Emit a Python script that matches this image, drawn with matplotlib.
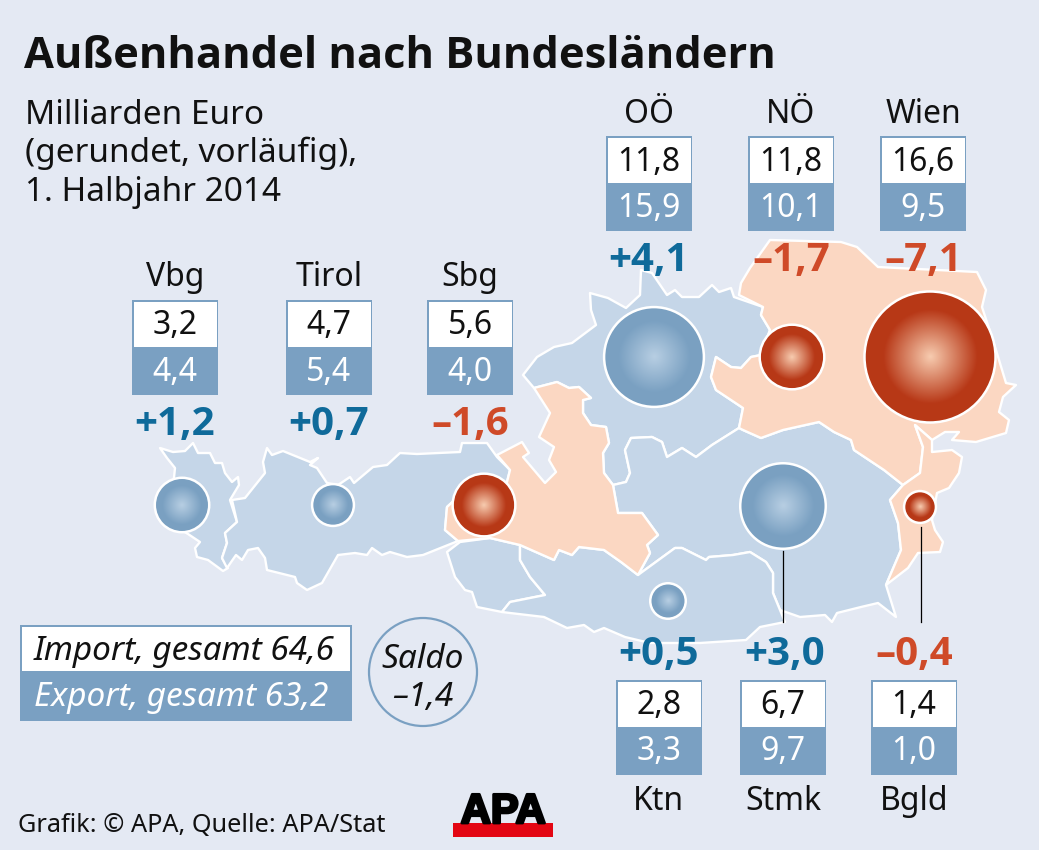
import numpy as np
from matplotlib import pyplot as plt
from matplotlib import patheffects as pe
from matplotlib.patches import Polygon, Circle, Rectangle

plt.rcParams['font.family'] = ['Noto Sans', 'DejaVu Sans']
BOLD_FONT = ['Open Sans', 'DejaVu Sans']

# bundeslaender, values in mrd euro
names = ["Vbg", "Tirol", "Sbg", "OÖ", "NÖ", "Wien", "Ktn", "Stmk", "Bgld"]
imports = [3.2, 4.7, 5.6, 11.8, 11.8, 16.6, 2.8, 6.7, 1.4]
exports = [4.4, 5.4, 4.0, 15.9, 10.1, 9.5, 3.3, 9.7, 1.0]
saldo = [1.2, 0.7, -1.6, 4.1, -1.7, -7.1, 0.5, 3.0, -0.4]

# layout per land, all in pixels of the picture
box_left = [132, 286, 427, 606, 748, 880, 616, 740, 871]
box_top = [300, 300, 300, 136, 136, 136, 680, 680, 680]
label_x = [175, 329, 470, 649, 791, 923, 658, 783, 914]
saldo_x = [175, 329, 470, 649, 791, 923, 658, 785, 914]
bubble_x = [182, 333, 484, 654, 792, 930, 668, 783, 920]
bubble_y = [505, 505, 505, 357, 357, 357, 601, 506, 507]

BG = "#e4e9f3"
MAP_BLUE = "#c5d6e8"
MAP_RED = "#fbd7c2"
BOX_BLUE = "#7aa0c2"
TXT_BLUE = "#0f6a9a"
TXT_RED = "#cf4a28"

vbg = [(160,448),(173,452),(185,451),(193,443),(198,453),(210,453),(215,463),(222,463),(225,473),
       (232,482),(238,477),(239,485),(230,500),(237,522),(225,533),(227,543),(222,558),(228,568),
       (223,571),(208,560),(197,557),(195,548),(200,542),(188,534),(173,525),(173,487),(175,468),(167,458)]
tirol = [(232,500),(245,498),(265,473),(263,462),(267,448),(272,455),(283,451),(310,462),(318,458),
         (310,465),(317,468),(327,483),(338,485),(350,477),(354,483),(373,467),(387,465),(400,453),
         (417,454),(460,452),(462,443),(487,443),(497,457),(510,470),(505,490),(460,495),(447,507),
         (445,530),(458,541),(423,555),(407,557),(390,552),(382,555),(372,548),(367,555),(355,553),
         (338,555),(322,583),(307,590),(297,583),(295,577),(267,570),(265,558),(258,548),(248,550),
         (242,560),(236,555),(227,568),(222,558),(227,543),(225,533),(237,522)]
osttirol = [(447,552),(460,542),(490,538),(520,545),(520,560),(530,577),(545,595),(510,602),(502,612),
            (477,607),(472,592),(465,590),(455,577)]
sbg = [(497,455),(522,442),(529,453),(523,457),(545,483),(556,472),(549,460),(554,447),(539,437),
       (550,413),(534,388),(557,382),(569,388),(579,387),(591,398),(583,400),(583,413),(591,425),
       (606,427),(609,443),(603,453),(604,473),(613,485),(618,513),(642,513),(658,535),(647,545),
       (650,553),(638,575),(621,562),(604,550),(579,547),(572,555),(559,550),(554,560),(520,545),
       (490,538),(458,541),(445,530),(447,507),(460,495),(505,490),(510,470)]
ooe = [(523,375),(537,357),(554,347),(572,343),(596,325),(591,310),(590,293),(608,298),(626,308),
       (640,295),(641,270),(652,273),(667,295),(675,290),(682,297),(699,297),(712,285),(719,292),
       (731,288),(734,297),(763,307),(761,315),(770,330),(761,355),(751,357),(741,368),(731,367),
       (716,357),(711,377),(716,390),(743,408),(739,428),(712,445),(696,457),(682,448),(667,457),
       (662,442),(652,437),(631,438),(625,450),(630,473),(626,482),(613,485),(604,473),(603,453),
       (609,443),(606,427),(591,425),(583,413),(583,400),(591,398),(579,387),(569,388),(557,382),(534,388)]
noe = [(739,295),(741,283),(750,268),(770,240),(841,242),(857,247),(878,267),(977,272),(986,290),
       (982,307),(996,350),(1006,383),(1016,385),(1003,397),(999,412),(1009,420),(1006,433),(976,442),
       (952,440),(959,432),(945,432),(932,440),(915,425),(923,447),(920,473),(903,485),(884,470),
       (854,450),(851,440),(834,432),(819,422),(783,430),(761,438),(743,430),(739,428),(743,408),
       (716,390),(711,377),(716,357),(731,367),(741,368),(751,357),(761,355),(770,330),(761,315),(763,307)]
bgld = [(915,425),(923,447),(920,473),(903,485),(890,500),(898,523),(901,550),(886,585),(908,568),
        (918,553),(940,552),(943,542),(935,530),(932,520),(937,493),(949,488),(959,473),(962,457),
        (952,450),(932,452),(932,440)]
stmk = [(613,485),(626,482),(630,473),(625,450),(631,438),(652,437),(662,442),(667,457),(682,448),
        (696,457),(712,445),(739,428),(743,430),(761,438),(783,430),(819,422),(834,432),(851,440),
        (854,450),(884,470),(903,485),(890,500),(898,523),(901,550),(886,585),(896,617),(878,603),
        (861,607),(837,613),(832,622),(825,615),(800,617),(780,610),(773,593),(773,573),(766,562),
        (750,552),(733,555),(709,557),(706,560),(682,548),(675,548),(638,575),(650,553),(647,545),
        (658,535),(642,513),(618,513)]
ktn = [(502,612),(510,602),(545,595),(530,577),(520,560),(520,545),(554,560),(559,550),(572,555),
       (579,547),(604,550),(621,562),(638,575),(675,548),(682,548),(706,560),(709,557),(733,555),
       (750,552),(766,562),(773,573),(773,593),(780,610),(785,622),(760,627),(746,640),(700,643),
       (650,643),(625,637),(604,628),(594,632),(584,625),(567,628),(544,617),(510,613)]

fig = plt.figure(figsize=(10.39, 8.5), dpi=100, facecolor=BG)
ax = fig.add_axes([0, 0, 1, 1])
ax.set_xlim(0, 1039)
ax.set_ylim(850, 0)
ax.axis("off")

for shape, col in [(vbg, MAP_BLUE), (tirol, MAP_BLUE), (osttirol, MAP_BLUE), (ooe, MAP_BLUE), (stmk, MAP_BLUE),
                   (ktn, MAP_BLUE), (sbg, MAP_RED), (noe, MAP_RED), (bgld, MAP_RED)]:
    ax.add_patch(Polygon(shape, closed=True, facecolor=col, edgecolor="white", lw=1.7, joinstyle="round", zorder=1))

# bubbles, area goes with the saldo
yy, xx = np.mgrid[-1:1:200j, -1:1:200j]
rr = np.clip(np.hypot(xx, yy) / 0.72, 0, 1)[..., None]
blue_in, blue_out = np.array([0.72, 0.81, 0.89]), np.array([0.48, 0.63, 0.76])
red_in, red_out = np.array([0.97, 0.80, 0.69]), np.array([0.72, 0.22, 0.09])
for cx, cy, s in zip(bubble_x, bubble_y, saldo):
    r = 24.4 * np.sqrt(abs(s))
    inner, outer = (blue_in, blue_out) if s > 0 else (red_in, red_out)
    img = inner * (1 - rr) + outer * rr
    im = ax.imshow(img, extent=(cx - r, cx + r, cy + r, cy - r), zorder=2, interpolation="bilinear")
    im.set_clip_path(Circle((cx, cy), r, transform=ax.transData))
    ax.add_patch(Circle((cx, cy), r + 0.5, facecolor="none", edgecolor="white", lw=1.8, zorder=3))
ax.set_xlim(0, 1039)
ax.set_ylim(850, 0)
ax.set_aspect("auto")

# leader lines
ax.plot([783, 783], [551, 622], color="black", lw=0.9, zorder=3)
ax.plot([921, 921], [527, 622], color="black", lw=0.9, zorder=3)

# value boxes
for i, name in enumerate(names):
    x, y = box_left[i], box_top[i]
    ax.add_patch(Rectangle((x, y), 86, 95, facecolor=BOX_BLUE, edgecolor="none", zorder=4))
    ax.add_patch(Rectangle((x + 1.5, y + 1.5), 83, 45, facecolor="white", edgecolor="none", zorder=4))
    ax.text(x + 43, y + 26, f"{imports[i]:.1f}".replace(".", ","), ha="center", va="center", fontsize=23, color="#111111", zorder=5)
    ax.text(x + 43, y + 72, f"{exports[i]:.1f}".replace(".", ","), ha="center", va="center", fontsize=23, color="white", zorder=5)
    ly = y + 122 if y == 680 else y - 22
    ax.text(label_x[i], ly, name, ha="center", va="center", fontsize=23, color="#111111", zorder=5)
    sy = y - 26 if y == 680 else y + 124
    txt = f"{saldo[i]:+.1f}".replace(".", ",").replace("-", "–")
    ax.text(saldo_x[i], sy, txt, ha="center", va="center", fontsize=29, fontweight="bold", family=BOLD_FONT,
            color=TXT_BLUE if saldo[i] > 0 else TXT_RED, zorder=5)

# title and subtitle
ax.text(24, 56, "Außenhandel nach Bundesländern", ha="left", va="center", fontsize=31.2, fontweight="bold",
        family=BOLD_FONT, color="#111111")
for y, line in zip([115, 153, 192], ["Milliarden Euro", "(gerundet, vorläufig),", "1. Halbjahr 2014"]):
    ax.text(25, y, line, ha="left", va="center", fontsize=24, color="#111111")

# legend
ax.add_patch(Rectangle((20, 625), 332, 96, facecolor=BOX_BLUE, edgecolor="none", zorder=4))
ax.add_patch(Rectangle((22, 627), 328, 44, facecolor="white", edgecolor="none", zorder=4))
ax.text(34, 651, "Import, gesamt 64,6", ha="left", va="center", fontsize=24, style="italic", color="#111111", zorder=5)
ax.text(34, 698, "Export, gesamt 63,2", ha="left", va="center", fontsize=24, style="italic", color="white", zorder=5)
ax.add_patch(Circle((423, 672), 54, facecolor="none", edgecolor=BOX_BLUE, lw=1.6, zorder=4))
ax.text(423, 659, "Saldo", ha="center", va="center", fontsize=24, style="italic", color="#111111", zorder=5)
ax.text(423, 698, "–1,4", ha="center", va="center", fontsize=24, style="italic", color="#111111", zorder=5)

# footer and logo
ax.text(18, 825, "Grafik: © APA, Quelle: APA/Stat", ha="left", va="center", fontsize=18.2, color="#111111")
ax.add_patch(Rectangle((453, 823), 100, 14, facecolor="#e30613", edgecolor="none"))
logo = ax.text(503, 823, "APA", ha="center", va="baseline", fontsize=30, fontweight="bold", color="black",
               family=["Liberation Sans", "DejaVu Sans"])
logo.set_path_effects([pe.withStroke(linewidth=2, foreground="black")])

fig.savefig("out.png", dpi=100, facecolor=BG)
